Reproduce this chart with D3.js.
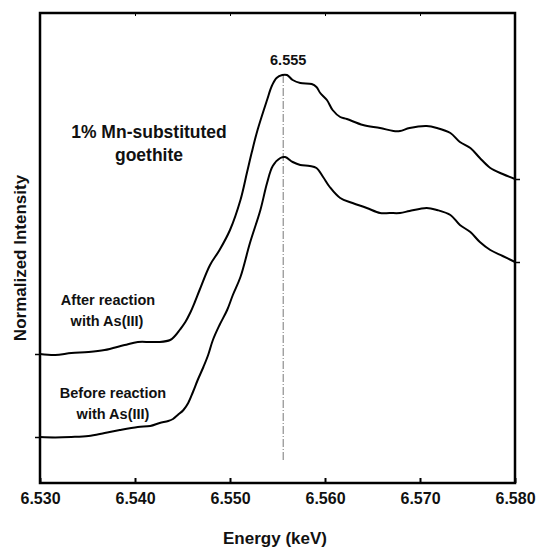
<!DOCTYPE html>
<html>
<head>
<meta charset="utf-8">
<script src="https://cdn.jsdelivr.net/npm/d3@7"></script>
<style>
  html, body { margin: 0; padding: 0; background: #fff; }
  svg text { font-family: "Liberation Sans", Arial, Helvetica, sans-serif; font-weight: bold; fill: #111; }
</style>
</head>
<body>
<svg id="chart" width="538" height="552"></svg>
<script>
// Energy (keV) and normalized intensity (arbitrary units, offset stacked)
const energyBefore = [6.5300, 6.5316, 6.5333, 6.5351, 6.5368, 6.5384, 6.5403, 6.5416, 6.5426, 6.5435, 6.5440, 6.5445, 6.5451, 6.5456, 6.5461, 6.5466, 6.5472, 6.5477, 6.5482, 6.5489, 6.5497, 6.5503, 6.5511, 6.5521, 6.5532, 6.5539, 6.5545, 6.5553, 6.5558, 6.5566, 6.5574, 6.5584, 6.5591, 6.5598, 6.5605, 6.5616, 6.5629, 6.5644, 6.5658, 6.5668, 6.5679, 6.5689, 6.5707, 6.5718, 6.5732, 6.5742, 6.5753, 6.5763, 6.5774, 6.5787, 6.5800];
const intensityBefore = [0.000, -0.002, 0.000, 0.005, 0.020, 0.035, 0.050, 0.055, 0.070, 0.080, 0.090, 0.110, 0.135, 0.170, 0.225, 0.285, 0.350, 0.410, 0.485, 0.560, 0.635, 0.710, 0.800, 0.970, 1.135, 1.270, 1.355, 1.395, 1.400, 1.375, 1.360, 1.355, 1.345, 1.300, 1.250, 1.195, 1.170, 1.145, 1.120, 1.120, 1.120, 1.130, 1.145, 1.135, 1.110, 1.060, 1.025, 0.975, 0.935, 0.905, 0.875];

const energyAfter = [6.5300, 6.5316, 6.5333, 6.5351, 6.5368, 6.5389, 6.5403, 6.5416, 6.5426, 6.5437, 6.5442, 6.5447, 6.5453, 6.5458, 6.5463, 6.5468, 6.5479, 6.5489, 6.5500, 6.5511, 6.5518, 6.5523, 6.5529, 6.5539, 6.5544, 6.5549, 6.5555, 6.5560, 6.5566, 6.5574, 6.5586, 6.5591, 6.5595, 6.5602, 6.5608, 6.5616, 6.5623, 6.5640, 6.5658, 6.5672, 6.5679, 6.5689, 6.5707, 6.5718, 6.5732, 6.5742, 6.5753, 6.5763, 6.5774, 6.5787, 6.5800];
const intensityAfter = [0.415, 0.410, 0.420, 0.425, 0.435, 0.460, 0.475, 0.475, 0.475, 0.485, 0.505, 0.535, 0.575, 0.620, 0.675, 0.735, 0.860, 0.935, 1.035, 1.185, 1.325, 1.425, 1.535, 1.685, 1.755, 1.795, 1.810, 1.810, 1.785, 1.770, 1.765, 1.750, 1.720, 1.685, 1.635, 1.600, 1.590, 1.560, 1.545, 1.530, 1.530, 1.545, 1.555, 1.545, 1.520, 1.475, 1.445, 1.395, 1.345, 1.315, 1.290];

const xTicks = [6.530, 6.540, 6.550, 6.560, 6.570, 6.580];
const peakEnergy = 6.5556;
const peakLabel = "6.555";
const baselines = [0.000, 0.415];          // left-edge marks
const endValues = [0.875, 1.290];          // right-edge marks

const svg = d3.select("#chart");
const L = 40, R = 515, T = 13, B = 483;

const x = d3.scaleLinear().domain([6.530, 6.580]).range([L, R]);
const y = d3.scaleLinear().domain([-0.23, 2.12]).range([B, T]);

// peak dashed marker line
svg.append("line")
  .attr("x1", x(peakEnergy)).attr("x2", x(peakEnergy))
  .attr("y1", y(1.81)).attr("y2", y(-0.12))
  .attr("stroke", "#777").attr("stroke-width", 1)
  .attr("stroke-dasharray", "8,2,1,2");

// curves
const line = d3.line().x(d => x(d[0])).y(d => y(d[1])).curve(d3.curveCatmullRom.alpha(0.5));
const before = energyBefore.map((e, i) => [e, intensityBefore[i]]);
const after = energyAfter.map((e, i) => [e, intensityAfter[i]]);
[before, after].forEach(data => {
  svg.append("path").datum(data)
    .attr("d", line).attr("fill", "none")
    .attr("stroke", "#000").attr("stroke-width", 2)
    .attr("stroke-linejoin", "round");
});

// frame
svg.append("rect").attr("x", L).attr("y", T).attr("width", R - L).attr("height", B - T)
  .attr("fill", "none").attr("stroke", "#000").attr("stroke-width", 2.5);

// bottom axis with inward ticks
const xAxis = d3.axisBottom(x).tickValues(xTicks).tickSizeInner(-5).tickSizeOuter(0)
  .tickFormat(d3.format(".3f")).tickPadding(10);
const gx = svg.append("g").attr("transform", `translate(0,${B})`).call(xAxis);
gx.select(".domain").remove();
gx.selectAll(".tick line").attr("stroke", "#000").attr("stroke-width", 2);
gx.selectAll(".tick text").attr("font-size", 16).attr("fill", "#111")
  .attr("font-family", "Liberation Sans, Arial, sans-serif").attr("font-weight", "bold");

// top axis small inward ticks
const gt = svg.append("g").attr("transform", `translate(0,${T})`)
  .call(d3.axisTop(x).tickValues(xTicks).tickSizeInner(-3).tickSizeOuter(0).tickFormat(""));
gt.select(".domain").remove();
gt.selectAll(".tick line").attr("stroke", "#000").attr("stroke-width", 1);

// left marks at curve baselines
const gl = svg.append("g").attr("transform", `translate(${L},0)`)
  .call(d3.axisLeft(y).tickValues(baselines).tickSize(5).tickFormat(""));
gl.select(".domain").remove();
gl.selectAll(".tick line").attr("stroke", "#000").attr("stroke-width", 1.5);

// right marks at curve ends
const gr = svg.append("g").attr("transform", `translate(${R},0)`)
  .call(d3.axisRight(y).tickValues(endValues).tickSize(5).tickFormat(""));
gr.select(".domain").remove();
gr.selectAll(".tick line").attr("stroke", "#000").attr("stroke-width", 1.5);

// texts
svg.append("text").attr("x", x(peakEnergy) + 5).attr("y", 65)
  .attr("text-anchor", "middle").attr("font-size", 14.5).text(peakLabel);

svg.append("text").attr("x", 149).attr("y", 138).attr("text-anchor", "middle")
  .attr("font-size", 17.5).text("1% Mn-substituted");
svg.append("text").attr("x", 149).attr("y", 161).attr("text-anchor", "middle")
  .attr("font-size", 17.5).text("goethite");

svg.append("text").attr("x", 108).attr("y", 305).attr("text-anchor", "middle")
  .attr("font-size", 14.5).text("After reaction");
svg.append("text").attr("x", 107).attr("y", 326).attr("text-anchor", "middle")
  .attr("font-size", 14.5).text("with As(III)");

svg.append("text").attr("x", 113).attr("y", 398).attr("text-anchor", "middle")
  .attr("font-size", 14.5).text("Before reaction");
svg.append("text").attr("x", 113).attr("y", 419).attr("text-anchor", "middle")
  .attr("font-size", 14.5).text("with As(III)");

svg.append("text").attr("transform", "translate(26,258) rotate(-90)")
  .attr("text-anchor", "middle").attr("font-size", 17).text("Normalized Intensity");

svg.append("text").attr("x", 275).attr("y", 544).attr("text-anchor", "middle")
  .attr("font-size", 17).text("Energy (keV)");
</script>
</body>
</html>
